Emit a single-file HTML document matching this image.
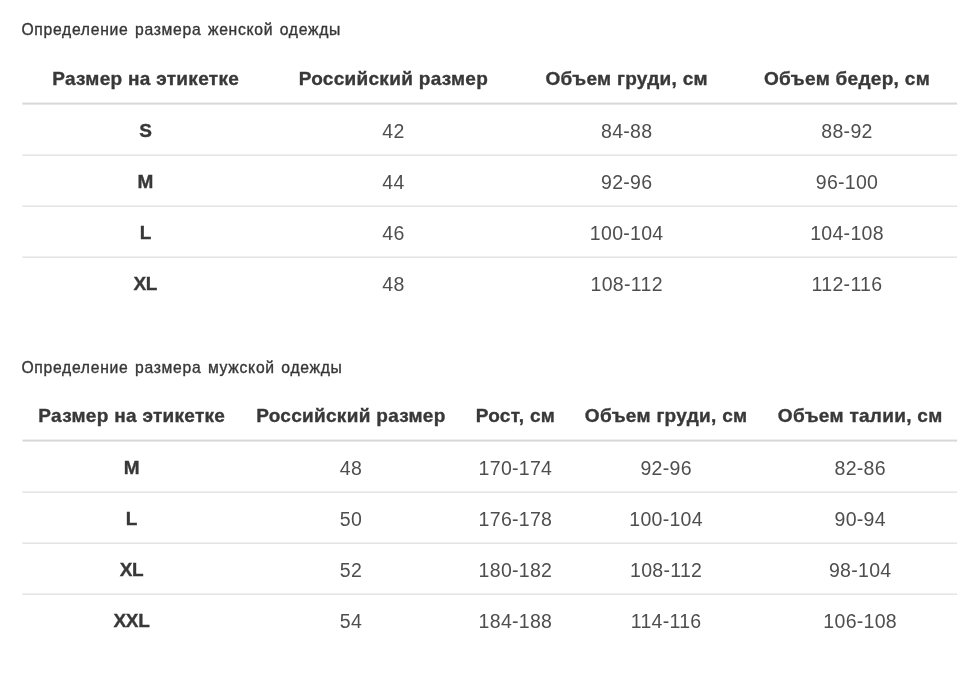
<!DOCTYPE html>
<html lang="ru"><head><meta charset="utf-8"><title>Определение размера одежды</title>
<style>
html,body{margin:0;padding:0;background:#fff;}
body{width:976px;height:679px;position:relative;overflow:hidden;font-family:"Liberation Sans","DejaVu Sans",sans-serif;}
svg.rules{position:absolute;left:0;top:0;}
.cap,.th,.td,.tb{position:absolute;white-space:nowrap;line-height:24px;height:24px;filter:blur(0.4px);}
.cap{font-size:15.7px;letter-spacing:0.72px;color:#363636;-webkit-text-stroke:0.35px #363636;word-spacing:1.4px;}
.th{font-size:19px;letter-spacing:0.3px;font-weight:bold;color:#383838;text-align:center;-webkit-text-stroke:0.35px #383838;}
.tb{font-size:19px;letter-spacing:-0.3px;font-weight:bold;color:#383838;text-align:center;-webkit-text-stroke:0.35px #383838;}
.td{font-size:19.5px;letter-spacing:0.3px;color:#4e4e4e;text-align:center;}
</style></head><body>

<svg class="rules" width="976" height="679" viewBox="0 0 976 679">
<rect x="22.4" y="102.60" width="934.7" height="2.0" fill="#d8d8d8"/>
<rect x="22.4" y="154.54" width="934.7" height="1.2" fill="#dcdcdc"/>
<rect x="22.4" y="205.54" width="934.7" height="1.2" fill="#dcdcdc"/>
<rect x="22.4" y="256.54" width="934.7" height="1.2" fill="#dcdcdc"/>
<rect x="22.4" y="439.60" width="934.7" height="2.0" fill="#d8d8d8"/>
<rect x="22.4" y="491.54" width="934.7" height="1.2" fill="#dcdcdc"/>
<rect x="22.4" y="542.54" width="934.7" height="1.2" fill="#dcdcdc"/>
<rect x="22.4" y="593.54" width="934.7" height="1.2" fill="#dcdcdc"/>
</svg>
<section role="table" aria-label="Определение размера женской одежды">
<div class="cap" style="left:21.40px;top:17.86px">Определение размера женской одежды</div>
<div role="row">
<div class="th" style="left:15.65px;top:66.72px;width:260px">Размер на этикетке</div>
<div class="th" style="left:263.40px;top:66.72px;width:260px">Российский размер</div>
<div class="th" style="left:496.70px;top:66.72px;width:260px">Объем груди, см</div>
<div class="th" style="left:717.00px;top:66.72px;width:260px">Объем бедер, см</div>
</div>
<div role="row">
<div class="tb" style="left:15.35px;top:118.72px;width:260px">S</div>
<div class="td" style="left:263.40px;top:118.54px;width:260px">42</div>
<div class="td" style="left:496.70px;top:118.54px;width:260px">84-88</div>
<div class="td" style="left:717.00px;top:118.54px;width:260px">88-92</div>
</div>
<div role="row">
<div class="tb" style="left:15.35px;top:169.72px;width:260px">M</div>
<div class="td" style="left:263.40px;top:169.54px;width:260px">44</div>
<div class="td" style="left:496.70px;top:169.54px;width:260px">92-96</div>
<div class="td" style="left:717.00px;top:169.54px;width:260px">96-100</div>
</div>
<div role="row">
<div class="tb" style="left:15.35px;top:220.72px;width:260px">L</div>
<div class="td" style="left:263.40px;top:220.54px;width:260px">46</div>
<div class="td" style="left:496.70px;top:220.54px;width:260px">100-104</div>
<div class="td" style="left:717.00px;top:220.54px;width:260px">104-108</div>
</div>
<div role="row">
<div class="tb" style="left:15.35px;top:271.72px;width:260px">XL</div>
<div class="td" style="left:263.40px;top:271.54px;width:260px">48</div>
<div class="td" style="left:496.70px;top:271.54px;width:260px">108-112</div>
<div class="td" style="left:717.00px;top:271.54px;width:260px">112-116</div>
</div>
</section>
<section role="table" aria-label="Определение размера мужской одежды">
<div class="cap" style="left:21.40px;top:355.86px">Определение размера мужской одежды</div>
<div role="row">
<div class="th" style="left:1.80px;top:403.82px;width:260px">Размер на этикетке</div>
<div class="th" style="left:220.90px;top:403.82px;width:260px">Российский размер</div>
<div class="th" style="left:385.45px;top:403.82px;width:260px">Рост, см</div>
<div class="th" style="left:536.10px;top:403.82px;width:260px">Объем груди, см</div>
<div class="th" style="left:730.20px;top:403.82px;width:260px">Объем талии, см</div>
</div>
<div role="row">
<div class="tb" style="left:1.50px;top:455.72px;width:260px">M</div>
<div class="td" style="left:220.90px;top:455.54px;width:260px">48</div>
<div class="td" style="left:385.45px;top:455.54px;width:260px">170-174</div>
<div class="td" style="left:536.10px;top:455.54px;width:260px">92-96</div>
<div class="td" style="left:730.20px;top:455.54px;width:260px">82-86</div>
</div>
<div role="row">
<div class="tb" style="left:1.50px;top:506.72px;width:260px">L</div>
<div class="td" style="left:220.90px;top:506.54px;width:260px">50</div>
<div class="td" style="left:385.45px;top:506.54px;width:260px">176-178</div>
<div class="td" style="left:536.10px;top:506.54px;width:260px">100-104</div>
<div class="td" style="left:730.20px;top:506.54px;width:260px">90-94</div>
</div>
<div role="row">
<div class="tb" style="left:1.50px;top:557.72px;width:260px">XL</div>
<div class="td" style="left:220.90px;top:557.54px;width:260px">52</div>
<div class="td" style="left:385.45px;top:557.54px;width:260px">180-182</div>
<div class="td" style="left:536.10px;top:557.54px;width:260px">108-112</div>
<div class="td" style="left:730.20px;top:557.54px;width:260px">98-104</div>
</div>
<div role="row">
<div class="tb" style="left:1.50px;top:608.72px;width:260px">XXL</div>
<div class="td" style="left:220.90px;top:608.54px;width:260px">54</div>
<div class="td" style="left:385.45px;top:608.54px;width:260px">184-188</div>
<div class="td" style="left:536.10px;top:608.54px;width:260px">114-116</div>
<div class="td" style="left:730.20px;top:608.54px;width:260px">106-108</div>
</div>
</section>
</body></html>
